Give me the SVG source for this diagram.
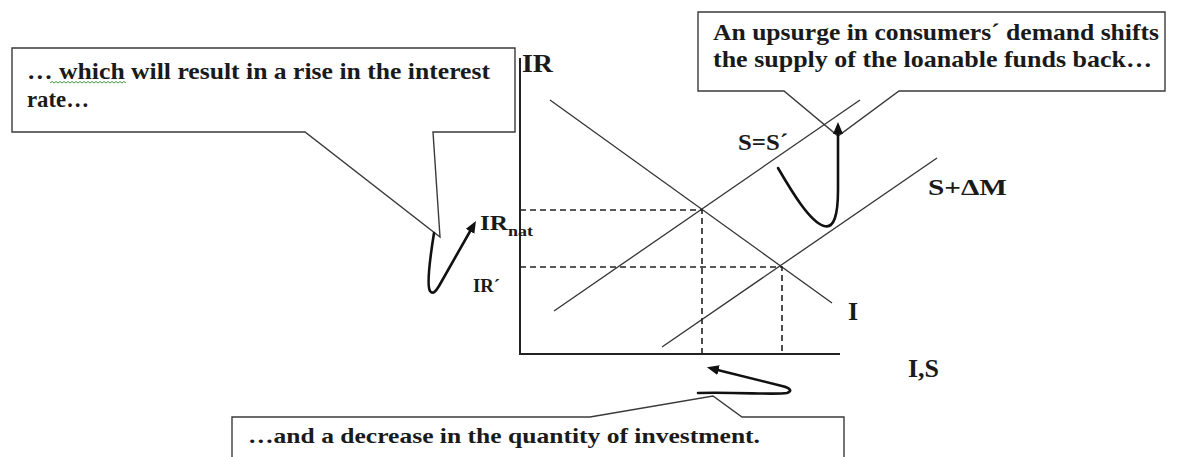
<svg xmlns="http://www.w3.org/2000/svg" width="1180" height="457" viewBox="0 0 1180 457">
<defs>
<style>
.box{fill:#fff;stroke:#3a3a3a;stroke-width:1.4;stroke-linejoin:miter}
.txt{font-family:"Liberation Serif","Times New Roman",serif;font-weight:bold;fill:#1a1a1a}
.ax{stroke:#222;stroke-width:2;fill:none}
.ln{stroke:#333;stroke-width:1.3;fill:none}
.dash{stroke:#222;stroke-width:1.6;stroke-dasharray:6 4;fill:none}
.arr{stroke:#111;stroke-width:2.6;fill:none;stroke-linecap:round;stroke-linejoin:round;marker-end:url(#ah)}
</style>
<marker id="ah" viewBox="0 0 12 10" refX="1" refY="5" markerWidth="12" markerHeight="10" markerUnits="userSpaceOnUse" orient="auto">
<path d="M0,0 L12,5 L0,10 Z" fill="#111"/>
</marker>
</defs>

<g id="callout-left">
<path class="box" d="M12,48 H515 V132 H433 L440,237 L305,132 H12 Z"/>
<text class="txt" x="27" y="79" font-size="23" textLength="463" lengthAdjust="spacingAndGlyphs">… which will result in a rise in the interest</text>
<text class="txt" x="27" y="107" font-size="23" textLength="62" lengthAdjust="spacingAndGlyphs">rate…</text>
<path d="M50,83 l2,-1.5 l2,1.5 l2,-1.5 l2,1.5 l2,-1.5 l2,1.5 l2,-1.5 l2,1.5 l2,-1.5 l2,1.5 l2,-1.5 l2,1.5 l2,-1.5 l2,1.5 l2,-1.5 l2,1.5 l2,-1.5 l2,1.5 l2,-1.5 l2,1.5 l2,-1.5 l2,1.5 l2,-1.5 l2,1.5 l2,-1.5 l2,1.5 l2,-1.5 l2,1.5 l2,-1.5 l2,1.5 l2,-1.5 l2,1.5 l2,-1.5 l2,1.5 l2,-1.5 l2,1.5 l2,-1.5 l2,1.5" fill="none" stroke="#4a9e4a" stroke-width="1"/>
</g>

<g id="callout-right">
<path class="box" d="M698,12 H1165 V91 H899 L838,136 L784,91 H698 Z"/>
<text class="txt" x="713" y="40" font-size="23" textLength="446" lengthAdjust="spacingAndGlyphs">An upsurge in consumers´ demand shifts</text>
<text class="txt" x="713" y="67" font-size="23" textLength="439" lengthAdjust="spacingAndGlyphs">the supply of the loanable funds back…</text>
</g>

<g id="callout-bottom">
<path class="box" d="M232,460 V417 H590 L713,396 L742,417 H844 V460"/>
<text class="txt" x="248" y="443" font-size="22" textLength="512" lengthAdjust="spacingAndGlyphs">…and a decrease in the quantity of investment.</text>
</g>

<g id="axes">
<path class="ax" d="M520,58 V354 H840"/>
<text class="txt" x="522" y="72" font-size="25" textLength="31" lengthAdjust="spacingAndGlyphs">IR</text>
<text class="txt" x="908" y="377" font-size="25" textLength="31" lengthAdjust="spacingAndGlyphs">I,S</text>
</g>

<g id="curve-I">
<line class="ln" x1="550" y1="100" x2="832" y2="303"/>
<text class="txt" x="848" y="320" font-size="26">I</text>
</g>

<g id="curve-S">
<line class="ln" x1="554" y1="311" x2="860" y2="100"/>
<text class="txt" x="738" y="150" font-size="23" textLength="50" lengthAdjust="spacingAndGlyphs">S=S´</text>
</g>

<g id="curve-SdM">
<line class="ln" x1="662" y1="347" x2="937" y2="158"/>
<text class="txt" x="928" y="195" font-size="23" textLength="79" lengthAdjust="spacingAndGlyphs">S+ΔM</text>
</g>

<g id="guides">
<path class="dash" d="M520,210 H702 V354"/>
<path class="dash" d="M520,267 H782 V354"/>
</g>

<g id="labels-IR">
<text class="txt" x="480" y="230" font-size="22" textLength="28" lengthAdjust="spacingAndGlyphs">IR</text>
<text class="txt" x="508" y="236" font-size="15" textLength="25" lengthAdjust="spacingAndGlyphs">nat</text>
<text class="txt" x="473" y="292" font-size="19" textLength="27" lengthAdjust="spacingAndGlyphs">IR´</text>
</g>

<g id="connectors">
<path class="arr" d="M434,233 C430,258 427,286 430,291 C433,295 436,291 439,286 L470.5,230.5"/>
<path class="arr" d="M778,168 C792,192 810,222 824,226 C834,229 838,215 838,190 L838,133"/>
<path class="arr" d="M698,393 C740,392 775,395 787,393 C793,391 790,388 782,386 L717.6,369.9"/>
</g>
</svg>
